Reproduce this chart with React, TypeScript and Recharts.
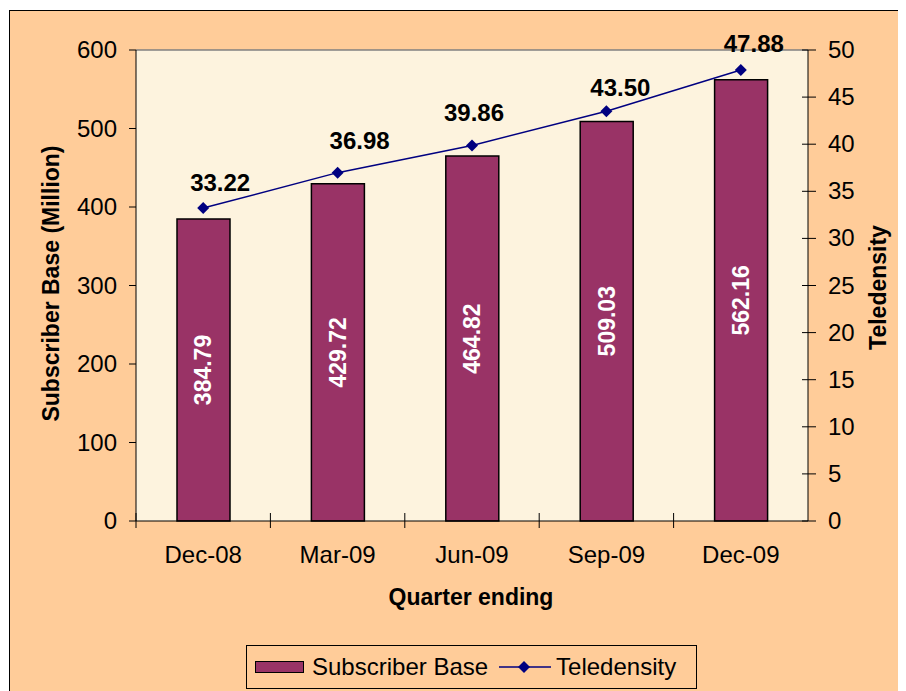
import {
  ComposedChart,
  Bar,
  Line,
  XAxis,
  YAxis,
  CartesianGrid,
  LabelList,
  ReferenceLine,
} from 'recharts'

const quarters = ['Dec-08', 'Mar-09', 'Jun-09', 'Sep-09', 'Dec-09']
const subscriberBase = [384.79, 429.72, 464.82, 509.03, 562.16]
const teledensity = [33.22, 36.98, 39.86, 43.5, 47.88]
const leftTicks = [0, 100, 200, 300, 400, 500, 600]
const rightTicks = [0, 5, 10, 15, 20, 25, 30, 35, 40, 45, 50]

// label nudges for the teledensity labels (dragged by hand in the original)
const LABEL_NUDGE = [
  { dx: 17, dy: -17 },
  { dx: 22, dy: -24 },
  { dx: 2, dy: -25 },
  { dx: 14, dy: -15 },
  { dx: 13, dy: -18 },
]

const FONT = '"Liberation Sans", Arial, sans-serif'
const BAR_COLOR = '#993366'
const LINE_COLOR = '#000080'
const PLOT_BG = '#FDF3DE'
const OUTER_BG = '#FFCC99'

const BAND = 672 / 5

const data = quarters.map((q, i) => ({
  quarter: q,
  subscriber: subscriberBase[i],
  teledensity: teledensity[i],
}))

function XTick({ x, y, payload }: any) {
  return (
    <g>
      <line x1={x - BAND / 2} x2={x - BAND / 2} y1={y - 8} y2={y + 7} stroke="#000" strokeWidth={1} />
      <text x={x} y={y + 42} textAnchor="middle" fontSize={24} fontFamily={FONT} fill="#000">
        {payload.value}
      </text>
    </g>
  )
}

function LeftTick({ x, y, payload }: any) {
  return (
    <g>
      <line x1={x - 7} x2={x} y1={y} y2={y} stroke="#000" strokeWidth={1} />
      <text x={x - 19} y={y + 8} textAnchor="end" fontSize={24} fontFamily={FONT} fill="#000">
        {payload.value}
      </text>
    </g>
  )
}

function RightTick({ x, y, payload }: any) {
  return (
    <g>
      <line x1={x - 6} x2={x + 8} y1={y} y2={y} stroke="#000" strokeWidth={1} />
      <text x={x + 20} y={y + 8} textAnchor="start" fontSize={24} fontFamily={FONT} fill="#000">
        {payload.value}
      </text>
    </g>
  )
}

function Diamond({ cx, cy }: any) {
  if (cx == null || cy == null) return null
  const r = 6
  return <path d={`M${cx},${cy - r}L${cx + r},${cy}L${cx},${cy + r}L${cx - r},${cy}Z`} fill={LINE_COLOR} />
}

function BarValueLabel({ x, y, width, height, value }: any) {
  const cx = x + width / 2
  const cy = y + height / 2
  return (
    <text
      x={cx}
      y={cy}
      transform={`rotate(-90 ${cx} ${cy})`}
      textAnchor="middle"
      dominantBaseline="central"
      fontSize={23}
      fontWeight={700}
      fontFamily={FONT}
      fill="#fff"
    >
      {Number(value).toFixed(2)}
    </text>
  )
}

function LineValueLabel({ x, y, value, index }: any) {
  const n = LABEL_NUDGE[index] ?? { dx: 0, dy: -18 }
  return (
    <text
      x={x + n.dx}
      y={y + n.dy}
      textAnchor="middle"
      fontSize={24}
      fontWeight={700}
      fontFamily={FONT}
      fill="#000"
    >
      {Number(value).toFixed(2)}
    </text>
  )
}

function LegendBox() {
  return (
    <div
      style={{
        position: 'absolute',
        left: 236,
        top: 634,
        width: 451,
        height: 44,
        display: 'flex',
        alignItems: 'center',
        border: '1px solid #000',
        background: OUTER_BG,
        fontFamily: FONT,
        fontSize: 24,
        color: '#000',
        boxSizing: 'border-box',
        whiteSpace: 'nowrap',
      }}
    >
      <span style={{ width: 49, height: 12, background: BAR_COLOR, border: '1.5px solid #000', display: 'inline-block', marginLeft: 8, marginRight: 8, boxSizing: 'border-box' }} />
      <span>Subscriber Base</span>
      <svg width={54} height={20} style={{ margin: '0 4px 0 10px' }}>
        <line x1={1} x2={53} y1={10} y2={10} stroke={LINE_COLOR} strokeWidth={1.5} />
        <path d="M26,4L32,10L26,16L20,10Z" fill={LINE_COLOR} />
      </svg>
      <span>Teledensity</span>
    </div>
  )
}

export default function App() {
  return (
    <div
      style={{
        marginTop: 2,
        marginLeft: 1,
        width: 900,
        height: 690,
        border: '1px solid #000',
        background: OUTER_BG,
        position: 'relative',
      }}
    >
      <ComposedChart
        width={890}
        height={680}
        data={data}
        margin={{ top: 39, right: 0, bottom: 110, left: 0 }}
        barCategoryGap={0}
      >
        <CartesianGrid horizontal={false} vertical={false} fill={PLOT_BG} yAxisId="left" />
        <XAxis
          dataKey="quarter"
          height={60}
          tickSize={0}
          tickMargin={0}
          tickLine={false}
          axisLine={{ stroke: '#000', strokeWidth: 1 }}
          tick={<XTick />}
          interval={0}
          label={{
            value: 'Quarter ending',
            position: 'insideBottom',
            offset: 0,
            content: ({ viewBox }: any) => (
              <text
                x={viewBox.x + viewBox.width / 2 - 1}
                y={viewBox.y + 84}
                textAnchor="middle"
                fontSize={23}
                fontWeight={700}
                fontFamily={FONT}
                fill="#000"
              >
                Quarter ending
              </text>
            ),
          }}
        />
        <YAxis
          yAxisId="left"
          orientation="left"
          width={126}
          domain={[0, 600]}
          ticks={leftTicks}
          tickSize={0}
          tickMargin={0}
          tickLine={false}
          axisLine={{ stroke: '#000', strokeWidth: 1 }}
          tick={<LeftTick />}
          interval={0}
          label={{
            value: 'Subscriber Base (Million)',
            content: ({ viewBox }: any) => {
              const lx = 41
              const ly = viewBox.y + viewBox.height / 2 - 2
              return (
                <text
                  x={lx}
                  y={ly}
                  transform={`rotate(-90 ${lx} ${ly})`}
                  textAnchor="middle"
                  dominantBaseline="central"
                  fontSize={23}
                  fontWeight={700}
                  fontFamily={FONT}
                  fill="#000"
                >
                  Subscriber Base (Million)
                </text>
              )
            },
          }}
        />
        <YAxis
          yAxisId="right"
          orientation="right"
          width={92}
          domain={[0, 50]}
          ticks={rightTicks}
          tickSize={0}
          tickMargin={0}
          tickLine={false}
          axisLine={{ stroke: '#000', strokeWidth: 1 }}
          tick={<RightTick />}
          interval={0}
          label={{
            value: 'Teledensity',
            content: ({ viewBox }: any) => {
              const lx = viewBox.x + 70
              const ly = viewBox.y + viewBox.height / 2 + 2
              return (
                <text
                  x={lx}
                  y={ly}
                  transform={`rotate(-90 ${lx} ${ly})`}
                  textAnchor="middle"
                  dominantBaseline="central"
                  fontSize={23}
                  fontWeight={700}
                  fontFamily={FONT}
                  fill="#000"
                >
                  Teledensity
                </text>
              )
            },
          }}
        />
        <ReferenceLine yAxisId="left" y={600} stroke="#808080" strokeWidth={1.5} />
        <Bar
          yAxisId="left"
          dataKey="subscriber"
          name="Subscriber Base"
          fill={BAR_COLOR}
          stroke="#000"
          strokeWidth={1.5}
          barSize={53}
          isAnimationActive={false}
        >
          <LabelList dataKey="subscriber" content={<BarValueLabel />} />
        </Bar>
        <Line
          yAxisId="right"
          dataKey="teledensity"
          name="Teledensity"
          stroke={LINE_COLOR}
          strokeWidth={1.5}
          dot={<Diamond />}
          activeDot={false}
          isAnimationActive={false}
        >
          <LabelList dataKey="teledensity" content={<LineValueLabel />} />
        </Line>
      </ComposedChart>
      <LegendBox />
    </div>
  )
}
